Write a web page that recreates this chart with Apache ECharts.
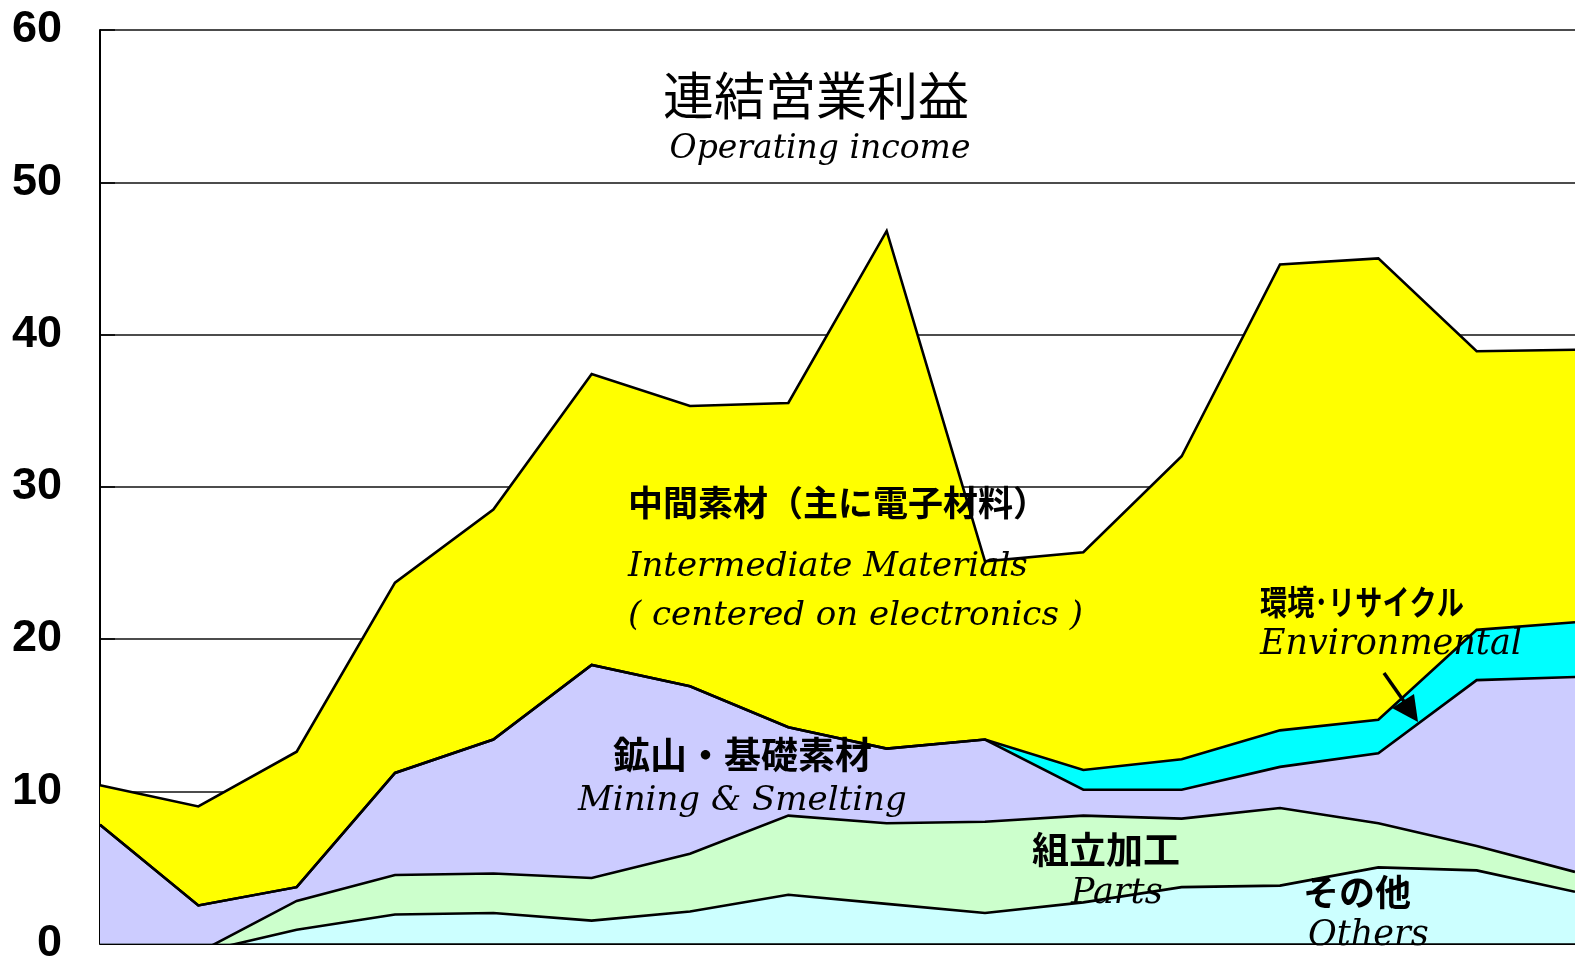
<!DOCTYPE html>
<html>
<head>
<meta charset="utf-8">
<script src="https://cdn.jsdelivr.net/npm/echarts@6/dist/echarts.min.js"></script>
<style>
	html, body { margin: 0; padding: 0; background: #fff; overflow: hidden; }
	#chart { width: 1575px; height: 966px; }
</style>
</head>
<body>
<div id="chart"></div>
<script>
	// 年度 (not printed on the chart)
	var categories = ['FY91', 'FY92', 'FY93', 'FY94', 'FY95', 'FY96', 'FY97', 'FY98', 'FY99', 'FY00', 'FY01', 'FY02', 'FY03', 'FY04', 'FY05', 'FY06'];
	var yTicks = [0, 10, 20, 30, 40, 50, 60];

	// segment values, stacked from the bottom
	var others        = [-0.6, -0.6, 0.9, 1.9, 2.0, 1.5, 2.1, 3.2, 2.6, 2.0, 2.7, 3.7, 3.8, 5.0, 4.8, 3.4];
	var parts         = [-0.2, 0.0, 1.9, 2.6, 2.6, 2.8, 3.8, 5.2, 5.3, 6.0, 5.7, 4.5, 5.1, 2.9, 1.6, 1.3];
	var mining        = [8.6, 3.1, 0.9, 6.7, 8.8, 14.0, 11.0, 5.8, 4.9, 5.4, 1.7, 1.9, 2.7, 4.6, 10.9, 12.8];
	var environmental = [0, 0, 0, 0, 0, 0, 0, 0, 0, 0, 1.3, 2.0, 2.4, 2.2, 3.3, 3.6];
	var intermediate  = [2.6, 6.5, 8.9, 12.5, 15.1, 19.1, 18.4, 21.3, 34.0, 11.7, 14.3, 19.9, 30.6, 30.3, 18.3, 17.9];

	var segments = [
		{ name: 'その他', data: others, color: '#ccffff' },
		{ name: '組立加工', data: parts, color: '#ccffcc' },
		{ name: '鉱山・基礎素材', data: mining, color: '#ccccff' },
		{ name: '環境・リサイクル', data: environmental, color: '#00ffff' },
		{ name: '中間素材', data: intermediate, color: '#ffff00' }
	];

	var series = [];
	// fills below the labels
	segments.forEach(function (s) {
		series.push({
			name: s.name,
			type: 'line',
			stack: 'fill',
			stackStrategy: 'all',
			data: s.data,
			z: 1,
			symbol: 'none',
			lineStyle: { width: 0, opacity: 0 },
			areaStyle: { color: s.color, opacity: 1 },
			silent: true
		});
	});
	// black outlines above the labels
	segments.forEach(function (s) {
		series.push({
			name: s.name + '_line',
			type: 'line',
			stack: 'outline',
			stackStrategy: 'all',
			data: s.data,
			z: 3,
			symbol: 'none',
			lineStyle: { width: 2.6, color: '#000', join: 'miter' },
			silent: true
		});
	});

	var jp = '"Noto Sans CJK JP"';
	var en = '"DejaVu Serif"';
	function label(text, x, y, font, scaleX) {
		return {
			type: 'text',
			x: x,
			y: y,
			z: 2,
			scaleX: scaleX || 1,
			style: {
				text: text,
				font: font,
				fill: '#000',
				textAlign: 'left',
				textVerticalAlign: 'middle'
			}
		};
	}

	var myChart = echarts.init(document.getElementById('chart'));
	myChart.setOption({
		animation: false,
		backgroundColor: '#fff',
		grid: {
			left: 100,
			top: 30,
			width: 1483,
			height: 920
		},
		xAxis: {
			type: 'category',
			data: categories,
			boundaryGap: false,
			axisLine: { lineStyle: { color: '#000', width: 2 } },
			axisTick: { inside: true, length: 14, interval: 0, lineStyle: { color: '#000', width: 1.5 } },
			axisLabel: { show: false },
			splitLine: { show: false }
		},
		yAxis: {
			type: 'value',
			min: yTicks[0],
			max: yTicks[yTicks.length - 1],
			interval: 10,
			axisLine: { show: true, lineStyle: { color: '#000', width: 2 } },
			axisTick: { show: true, inside: true, length: 15, lineStyle: { color: '#000', width: 1.5 } },
			axisLabel: {
				margin: 38,
				color: '#000',
				fontSize: 45,
				fontWeight: 'bold',
				fontFamily: '"Liberation Sans", Arial, sans-serif'
			},
			splitLine: { show: true, lineStyle: { color: '#111', width: 1.5 } }
		},
		graphic: [
			{
				type: 'text', x: 816, y: 96, z: 2,
				style: { text: '連結営業利益', font: '51px ' + jp, fill: '#000', textAlign: 'center', textVerticalAlign: 'middle' }
			},
			{
				type: 'text', x: 820, y: 149, z: 2,
				style: { text: 'Operating income', font: 'italic 33px ' + en, fill: '#000', textAlign: 'center', textVerticalAlign: 'middle' }
			},
			label('中間素材（主に電子材料）', 628, 503, 'bold 35px ' + jp),
			label('Intermediate Materials', 628, 567, 'italic 34px ' + en),
			label('( centered on electronics )', 628, 616, 'italic 34px ' + en),
			label('鉱山・基礎素材', 613, 755, 'bold 37px ' + jp),
			label('Mining & Smelting', 578, 801, 'italic 34px ' + en),
			label('組立加工', 1032, 850, 'bold 37px ' + jp),
			label('Parts', 1071, 894, 'italic 35px ' + en),
			label('環境･リサイクル', 1260, 602, 'bold 34px ' + jp, 0.8),
			label('Environmental', 1260, 645, 'italic 35px ' + en),
			label('その他', 1303, 892, 'bold 36px ' + jp),
			label('Others', 1308, 936, 'italic 35px ' + en),
			{
				type: 'line', z: 4,
				shape: { x1: 1384, y1: 673, x2: 1410, y2: 710 },
				style: { stroke: '#000', lineWidth: 3.5 }
			},
			{
				type: 'polygon', z: 4,
				shape: { points: [[1418, 722], [1392, 708], [1414, 694]] },
				style: { fill: '#000' }
			}
		],
		series: series
	});
</script>
</body>
</html>
